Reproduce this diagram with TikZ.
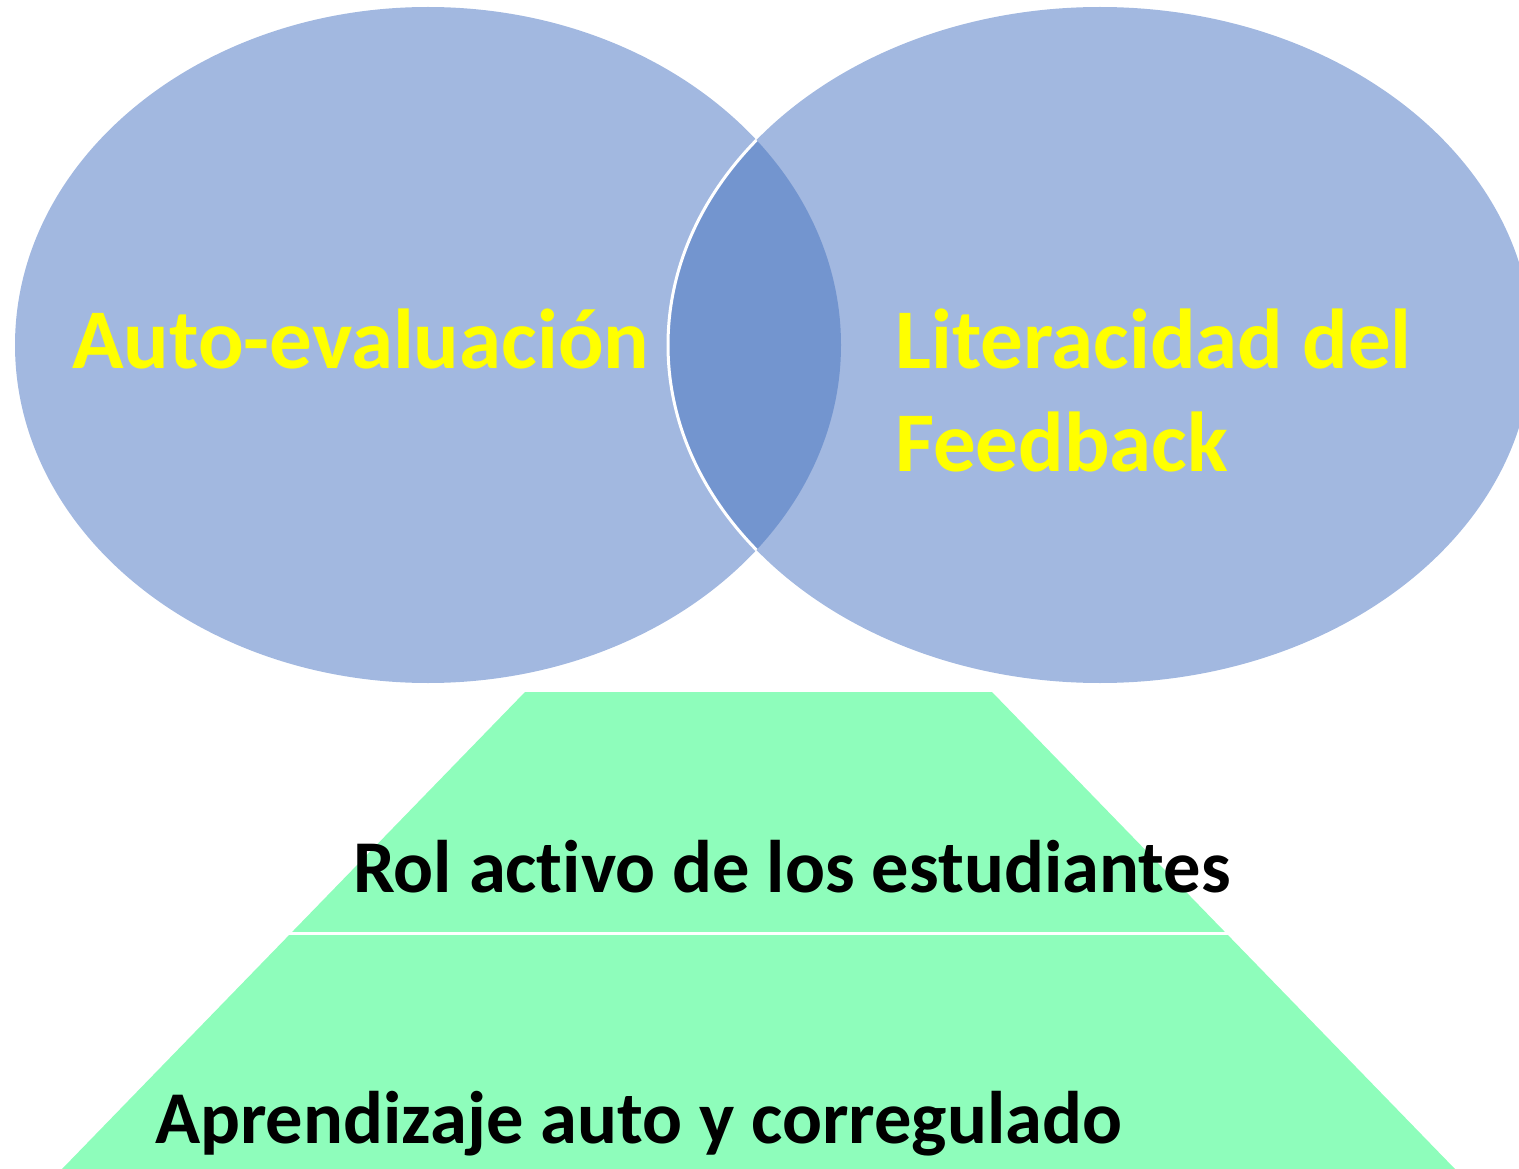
\documentclass[tikz,border=0pt]{standalone}
\usepackage{fontspec}
\setmainfont{Carlito}[Ligatures={NoCommon}]
\definecolor{ellfill}{RGB}{162,184,224}
\definecolor{lensfill}{RGB}{115,149,207}
\definecolor{trapfill}{RGB}{142,253,187}
\definecolor{txtyellow}{RGB}{255,255,0}
\begin{document}
\begin{tikzpicture}[x=1pt,y=-1pt,
  toptext/.style={anchor=base west, inner sep=0pt, text=txtyellow, align=left,
    font=\fontsize{85}{103}\selectfont\bfseries},
  bottext/.style={anchor=base west, inner sep=0pt, text=black,
    font=\fontsize{74.5}{90}\selectfont\bfseries}]
\useasboundingbox (0,0) rectangle (1519,1169);
\clip (0,0) rectangle (1519,1169);
\coordinate (lc) at (428,345);
\coordinate (rc) at (1100,345);
\fill[ellfill] (lc) ellipse [x radius=413, y radius=338];
\fill[ellfill] (rc) ellipse [x radius=432, y radius=338];
\begin{scope}
  \clip (lc) ellipse [x radius=413, y radius=338];
  \fill[lensfill] (rc) ellipse [x radius=432, y radius=338];
  \draw[white, line width=3pt] (rc) ellipse [x radius=432, y radius=338];
\end{scope}
\coordinate (tl) at (525,692);
\coordinate (tr) at (992,692);
\coordinate (br) at (1455,1169);
\coordinate (bl) at (62,1169);
\coordinate (dl) at (285,933);
\coordinate (dr) at (1232,933);
\fill[trapfill] (tl) -- (tr) -- (br) -- (bl) -- cycle;
\draw[white, line width=3pt] (dl) -- (dr);
\node[toptext] (auto) at (72,368) {Auto-evaluación};
\node[toptext] (lit) at (895,471) {Literacidad del\\Feedback};
\node[bottext] (rol) at (353,892) {Rol activo de los estudiantes};
\node[bottext] (apr) at (155,1143) {Aprendizaje auto y corregulado};
\end{tikzpicture}
\end{document}
